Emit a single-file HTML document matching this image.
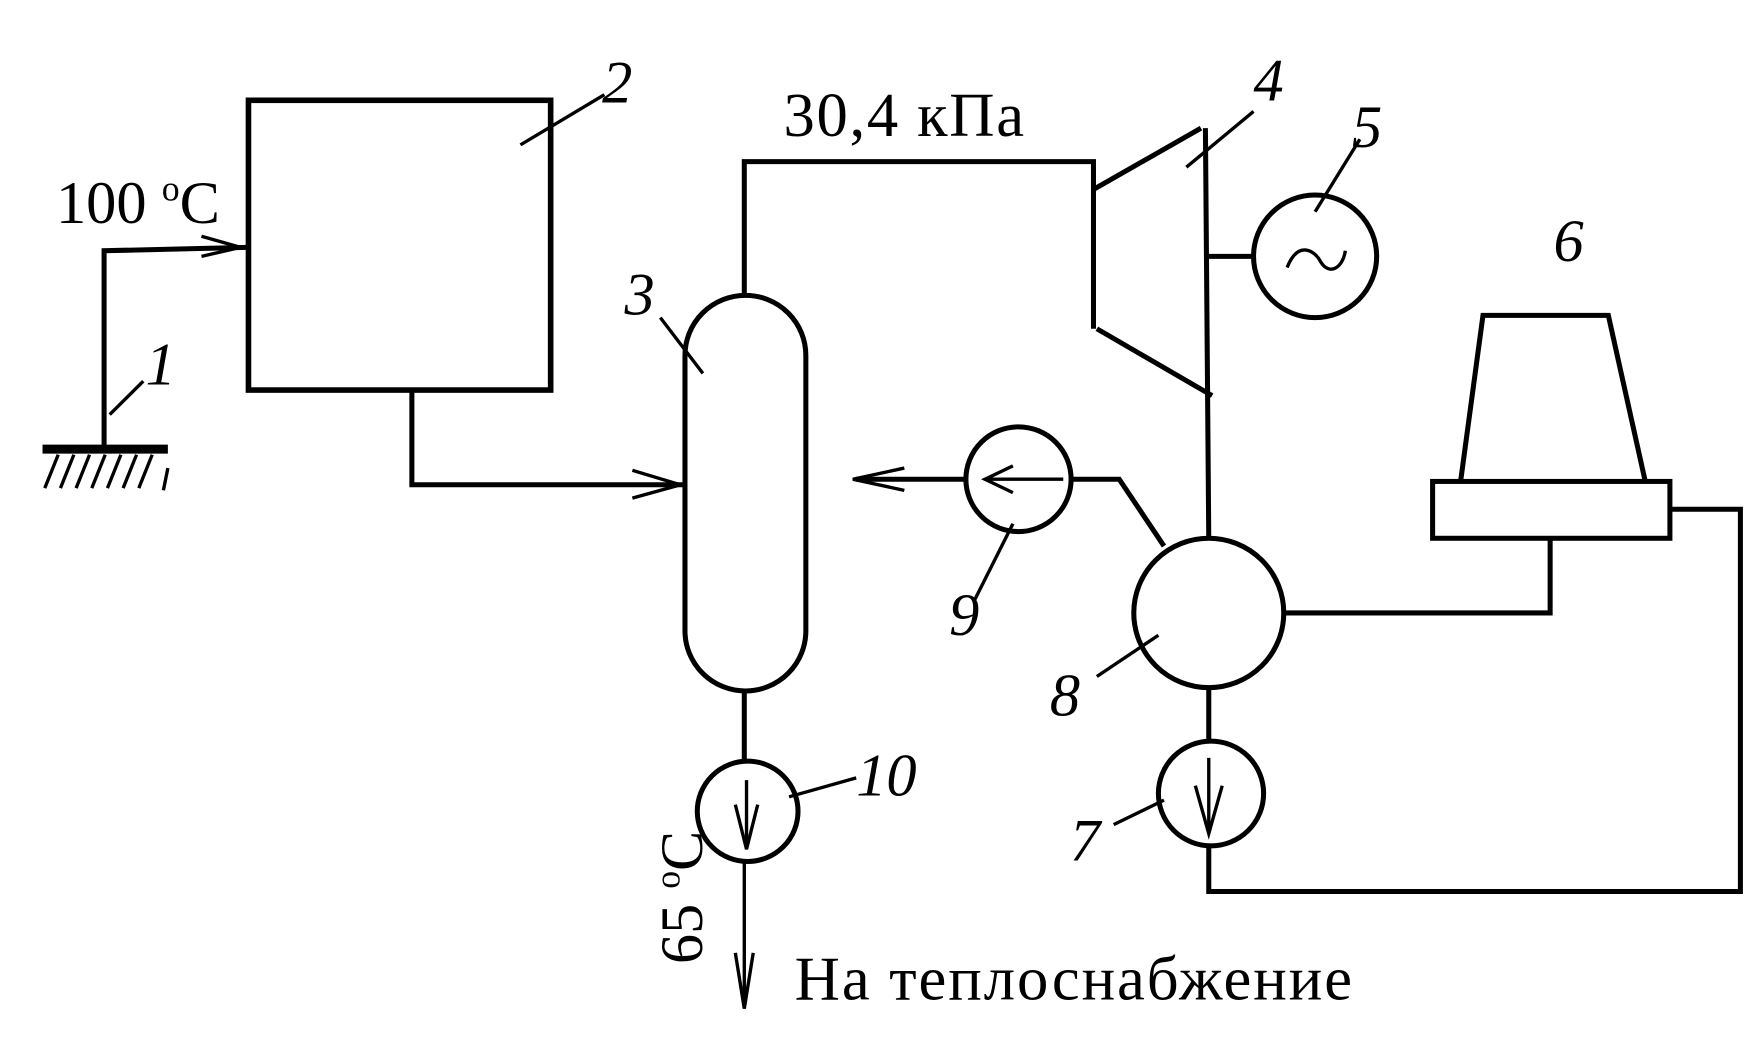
<!DOCTYPE html>
<html><head><meta charset="utf-8"><style>html,body{margin:0;padding:0;background:#fff}svg{display:block}</style></head><body>
<svg width="1746" height="1042" viewBox="0 0 1560 935" preserveAspectRatio="none" xmlns="http://www.w3.org/2000/svg" font-family="Liberation Serif, serif" fill="none" stroke="#000" stroke-width="4.5">
<line x1="38" y1="403" x2="150" y2="403" stroke-width="8"/>
<g stroke-width="3"><line x1="52" y1="408" x2="40" y2="438"/><line x1="66" y1="408" x2="54" y2="438"/><line x1="80" y1="408" x2="68" y2="438"/><line x1="94" y1="408" x2="82" y2="438"/><line x1="108" y1="408" x2="96" y2="438"/><line x1="122" y1="408" x2="110" y2="438"/><line x1="136" y1="408" x2="124" y2="438"/><line x1="150" y1="420" x2="146" y2="440"/></g>
<polyline points="93,403 93,225 220,222"/>
<path d="M180,212 L215,222 L180,230" stroke-width="3"/>
<text x="50" y="200" font-size="54" fill="#000" stroke="none">100 <tspan font-size="32" dy="-20">o</tspan><tspan dy="20">C</tspan></text>
<rect x="222" y="90" width="270" height="260" stroke-width="5"/>
<line x1="465" y1="130" x2="540" y2="85" stroke-width="3"/>
<text x="538" y="92" font-size="54" font-style="italic" fill="#000" stroke="none">2</text>
<line x1="98" y1="372" x2="128" y2="342" stroke-width="3"/>
<text x="130" y="345" font-size="54" font-style="italic" fill="#000" stroke="none">1</text>
<polyline points="368,350 368,435 612,435"/>
<path d="M565,422 L608,435 L565,447" stroke-width="3"/>
<rect x="612" y="265" width="108" height="355" rx="54" ry="54" stroke-width="4.5"/>
<line x1="590" y1="285" x2="628" y2="335" stroke-width="3"/>
<text x="558" y="282" font-size="54" font-style="italic" fill="#000" stroke="none">3</text>
<polyline points="665,265 665,145 977,145 977,295"/>
<line x1="977" y1="170" x2="1073" y2="115"/>
<line x1="980" y1="295" x2="1083" y2="355"/>
<line x1="1077" y1="115" x2="1080" y2="485"/>
<text x="700" y="122" font-size="56" fill="#000" stroke="none" textLength="215">30,4 кПа</text>
<line x1="1060" y1="150" x2="1120" y2="100" stroke-width="3"/>
<text x="1120" y="90" font-size="54" font-style="italic" fill="#000" stroke="none">4</text>
<line x1="1077" y1="230" x2="1120" y2="230"/>
<circle cx="1175" cy="230" r="55"/>
<path d="M1150,240 C1160,215 1175,225 1180,235 C1188,248 1200,240 1202,225" stroke-width="3"/>
<line x1="1175" y1="190" x2="1215" y2="125" stroke-width="3"/>
<text x="1208" y="132" font-size="54" font-style="italic" fill="#000" stroke="none">5</text>
<polyline points="1305,432 1325,283 1437,283 1470,432"/>
<rect x="1280" y="432" width="212" height="51" stroke-width="4.5"/>
<text x="1388" y="234" font-size="54" font-style="italic" fill="#000" stroke="none">6</text>
<circle cx="1080" cy="550" r="67"/>
<line x1="980" y1="607" x2="1035" y2="570" stroke-width="3"/>
<text x="938" y="642" font-size="54" font-style="italic" fill="#000" stroke="none">8</text>
<polyline points="1147,550 1385,550 1385,483"/>
<polyline points="1492,457 1555,457 1555,800 1080,800 1080,759"/>
<line x1="1080" y1="617" x2="1080" y2="665"/>
<circle cx="1082" cy="712" r="47"/>
<line x1="1080" y1="680" x2="1080" y2="745" stroke-width="3"/>
<path d="M1068,705 L1080,748 L1092,705" stroke-width="3"/>
<line x1="995" y1="740" x2="1040" y2="718" stroke-width="3"/>
<text x="956" y="772" font-size="54" font-style="italic" fill="#000" stroke="none">7</text>
<polyline points="1040,490 1000,430 957,430"/>
<circle cx="910" cy="430" r="47"/>
<line x1="880" y1="430" x2="950" y2="430" stroke-width="3"/>
<path d="M905,418 L880,430 L905,442" stroke-width="3"/>
<line x1="863" y1="430" x2="765" y2="430"/>
<path d="M808,420 L762,430 L808,440" stroke-width="3"/>
<line x1="870" y1="540" x2="905" y2="470" stroke-width="3"/>
<text x="848" y="570" font-size="54" font-style="italic" fill="#000" stroke="none">9</text>
<line x1="665" y1="620" x2="665" y2="683"/>
<circle cx="668" cy="728" r="45"/>
<line x1="667" y1="700" x2="667" y2="760" stroke-width="3"/>
<path d="M657,722 L667,762 L677,722" stroke-width="3"/>
<line x1="665" y1="773" x2="665" y2="905" stroke-width="3"/>
<path d="M657,855 L665,905 L673,855" stroke-width="3"/>
<line x1="705" y1="715" x2="765" y2="698" stroke-width="3"/>
<text x="765" y="714" font-size="54" font-style="italic" fill="#000" stroke="none">10</text>
<text transform="translate(627,865) rotate(-90)" font-size="54" fill="#000" stroke="none">65 <tspan font-size="32" dy="-20">o</tspan><tspan dy="20">C</tspan></text>
<text x="710" y="897" font-size="56" fill="#000" stroke="none" textLength="498">На теплоснабжение</text>
</svg>
</body></html>
